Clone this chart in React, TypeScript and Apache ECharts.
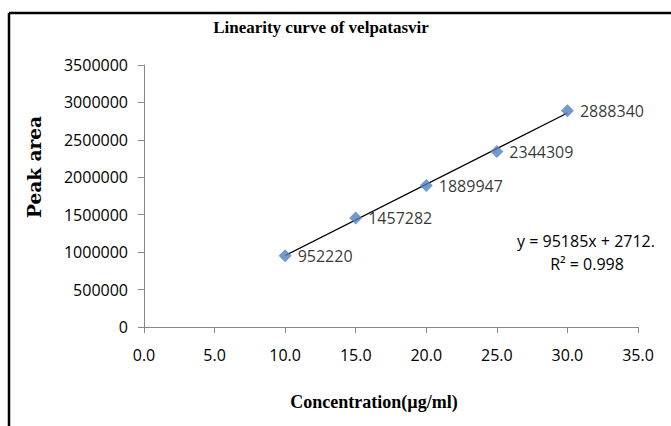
import React, { useEffect, useRef } from "react";
import * as echarts from "echarts";

const concentrations = [10, 15, 20, 25, 30];
const peakAreas = [952220, 1457282, 1889947, 2344309, 2888340];
const slope = 95185;
const intercept = 2712;
const trendX = [10, 30];
const equationText = "y = 95185x + 2712.";
const r2Text = "R² = 0.998";
const titleText = "Linearity curve of velpatasvir";
const xName = "Concentration(µg/ml)";
const yName = "Peak area";

export default function App() {
  const ref = useRef<HTMLDivElement>(null);
  useEffect(() => {
    const chart = echarts.init(ref.current!, null, { renderer: "svg" });
    const tickFont = { fontFamily: "Open Sans", fontSize: 16, color: "#000" };
    const serifBold = {
      fontFamily: "Liberation Serif",
      fontWeight: "bold",
      fontSize: 18,
      fill: "#000",
    };
    chart.setOption({
      animation: false,
      backgroundColor: "#fff",
      grid: { left: 144, right: 33, top: 65, bottom: 99, containLabel: false },
      xAxis: {
        type: "value",
        min: 0,
        max: 35,
        interval: 5,
        axisLine: { show: true, lineStyle: { color: "#868686", width: 1 } },
        axisTick: { show: true, length: 6, lineStyle: { color: "#868686" } },
        splitLine: { show: false },
        axisLabel: {
          ...tickFont,
          margin: 20,
          formatter: (v: number) => v.toFixed(1),
        },
      },
      yAxis: {
        type: "value",
        min: 0,
        max: 3500000,
        interval: 500000,
        axisLine: { show: true, lineStyle: { color: "#868686", width: 1 } },
        axisTick: { show: true, length: 6, lineStyle: { color: "#868686" } },
        splitLine: { show: false },
        axisLabel: { ...tickFont, margin: 16, formatter: (v: number) => String(v) },
      },
      series: [
        {
          type: "line",
          data: trendX.map((x) => [x, slope * x + intercept]),
          symbol: "none",
          lineStyle: { color: "#000", width: 1.3 },
          silent: true,
          z: 1,
        },
        {
          type: "scatter",
          data: concentrations.map((c, i) => [c, peakAreas[i]]),
          symbol: "diamond",
          symbolSize: 13,
          itemStyle: { color: "#4F81BD" },
          z: 2,
          label: {
            show: true,
            position: "right",
            distance: 6,
            ...tickFont,
            formatter: (p: any) => String(p.value[1]),
          },
        },
      ],
      graphic: [
        { type: "line", shape: { x1: 9, y1: 13, x2: 671, y2: 13 }, style: { stroke: "#000", lineWidth: 2.5 } },
        { type: "line", shape: { x1: 9, y1: 13, x2: 9, y2: 426 }, style: { stroke: "#000", lineWidth: 2.5 } },
        {
          type: "text",
          x: 321,
          y: 27,
          style: { ...serifBold, fontSize: 17, text: titleText, textAlign: "center", textVerticalAlign: "middle" },
        },
        {
          type: "text",
          x: 374,
          y: 402,
          style: { ...serifBold, text: xName, textAlign: "center", textVerticalAlign: "middle" },
        },
        {
          type: "text",
          x: 34,
          y: 167,
          rotation: Math.PI / 2,
          style: { ...serifBold, fontFamily: "DejaVu Serif", fontSize: 18.5, text: yName, textAlign: "center", textVerticalAlign: "middle" },
        },
        {
          type: "text",
          x: 586,
          y: 241,
          style: { fontFamily: "Open Sans", fontSize: 16, fill: "#000", text: equationText, textAlign: "center", textVerticalAlign: "middle" },
        },
        {
          type: "text",
          x: 587,
          y: 264,
          style: { fontFamily: "Open Sans", fontSize: 16, fill: "#000", text: r2Text, textAlign: "center", textVerticalAlign: "middle" },
        },
      ],
    });
    return () => chart.dispose();
  }, []);
  return <div ref={ref} style={{ width: 671, height: 426, position: "absolute", left: 0, top: 0 }} />;
}
